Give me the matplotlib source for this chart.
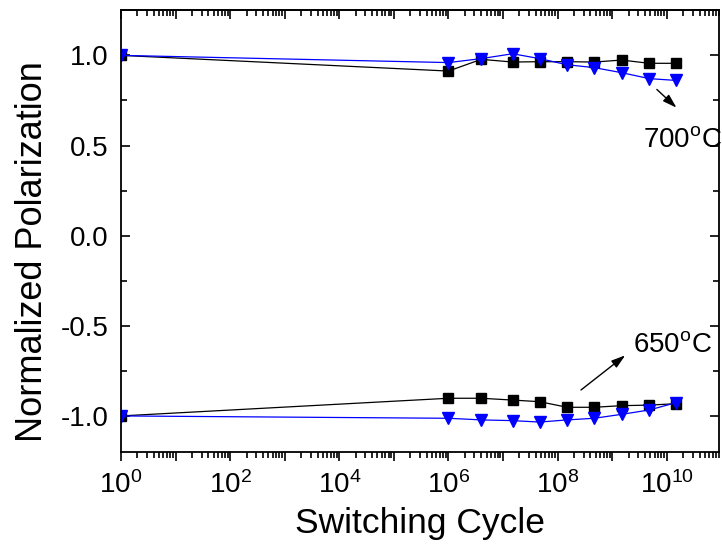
import numpy as np
import matplotlib
matplotlib.use('Agg')
from matplotlib import pyplot as plt
from matplotlib.ticker import LogLocator, FuncFormatter, MultipleLocator, NullFormatter

plt.rcParams['font.family'] = ['Liberation Sans', 'DejaVu Sans']
plt.rcParams['mathtext.fontset'] = 'custom'
plt.rcParams['mathtext.rm'] = 'Liberation Sans'
plt.rcParams['mathtext.it'] = 'Liberation Sans:italic'

# switching cycles (same for all series)
cycles = [1, 1e6, 4e6, 1.5e7, 4.7e7, 1.5e8, 4.7e8, 1.5e9, 4.8e9, 1.5e10]

# positive polarization branch
pos_square = [1.0, 0.913, 0.978, 0.963, 0.965, 0.965, 0.963, 0.974, 0.956, 0.956]
pos_triangle = [1.0, 0.960, 0.982, 1.009, 0.982, 0.948, 0.932, 0.904, 0.871, 0.861]

# negative polarization branch
neg_square = [-1.0, -0.902, -0.902, -0.912, -0.921, -0.952, -0.952, -0.943, -0.940, -0.932]
neg_triangle = [-1.0, -1.013, -1.022, -1.026, -1.034, -1.022, -1.013, -0.991, -0.967, -0.926]

fig = plt.figure(figsize=(7.22, 5.48), dpi=100)
ax = fig.add_axes([0.1676, 0.1752, 0.8287, 0.806])

for ys in (pos_square, neg_square):
	ax.plot(cycles, ys, color='black', lw=0.9, marker='s', ms=7.2,
			mfc='black', mec='black')
for ys in (pos_triangle, neg_triangle):
	ax.plot(cycles, ys, color='blue', lw=0.9, marker='v', ms=9,
			mfc='blue', mec='blue')

ax.set_xscale('log')
ax.set_xlim(1, 10 ** 10.965)
ax.set_ylim(-1.2, 1.25)

ax.xaxis.set_major_locator(LogLocator(base=10, numticks=30))
ax.xaxis.set_minor_locator(LogLocator(base=10, subs=np.arange(2, 10), numticks=30))
ax.xaxis.set_minor_formatter(NullFormatter())


def fmt_log(v, pos):
	e = int(round(np.log10(v)))
	if e % 2:
		return ''
	return r'$\mathregular{10^{%d}}$' % e


ax.xaxis.set_major_formatter(FuncFormatter(fmt_log))
ax.yaxis.set_major_locator(MultipleLocator(0.5))
ax.yaxis.set_minor_locator(MultipleLocator(0.25))
ax.yaxis.set_major_formatter(FuncFormatter(lambda v, p: '%.1f' % v))

for s in ax.spines.values():
	s.set_linewidth(1.3)

ax.tick_params(axis='y', which='both', direction='in', left=True, right=True,
			   labelsize=20, width=1.2, pad=9)
ax.tick_params(axis='y', which='major', length=6.5)
ax.tick_params(axis='y', which='minor', length=4)
ax.tick_params(axis='x', which='both', direction='out', bottom=True, top=False,
			   labelsize=20, width=1.2, pad=7)
ax.tick_params(axis='x', which='major', length=6.5)
ax.tick_params(axis='x', which='minor', length=4)

# inward ticks on top edge
top = ax.secondary_xaxis('top')
top.xaxis.set_major_locator(LogLocator(base=10, numticks=30))
top.xaxis.set_minor_locator(LogLocator(base=10, subs=np.arange(2, 10), numticks=30))
top.xaxis.set_major_formatter(NullFormatter())
top.xaxis.set_minor_formatter(NullFormatter())
top.tick_params(which='both', direction='in', width=1.2)
top.tick_params(which='major', length=6.5)
top.tick_params(which='minor', length=4)
top.spines['top'].set_linewidth(1.3)

ax.set_xlabel('Switching Cycle', fontsize=25.5, labelpad=6)
ax.set_ylabel('Normalized Polarization', fontsize=26)
ax.yaxis.set_label_coords(-0.119, 0.454)

arrow = dict(arrowstyle='-|>,head_length=0.7,head_width=0.22', color='black',
			 lw=1, mutation_scale=12, shrinkA=0, shrinkB=0)
ax.annotate('', xy=(10 ** 10.18, 0.71), xytext=(10 ** 9.82, 0.811), arrowprops=arrow)
ax.annotate('', xy=(10 ** 9.24, -0.664), xytext=(10 ** 8.43, -0.856), arrowprops=arrow)
ax.text(10 ** 9.57, 0.49, r'700$^{\mathregular{o}}$C', fontsize=20, clip_on=False)
ax.text(10 ** 9.38, -0.647, r'650$^{\mathregular{o}}$C', fontsize=20, clip_on=False)

fig.savefig('out.png', dpi=100)
